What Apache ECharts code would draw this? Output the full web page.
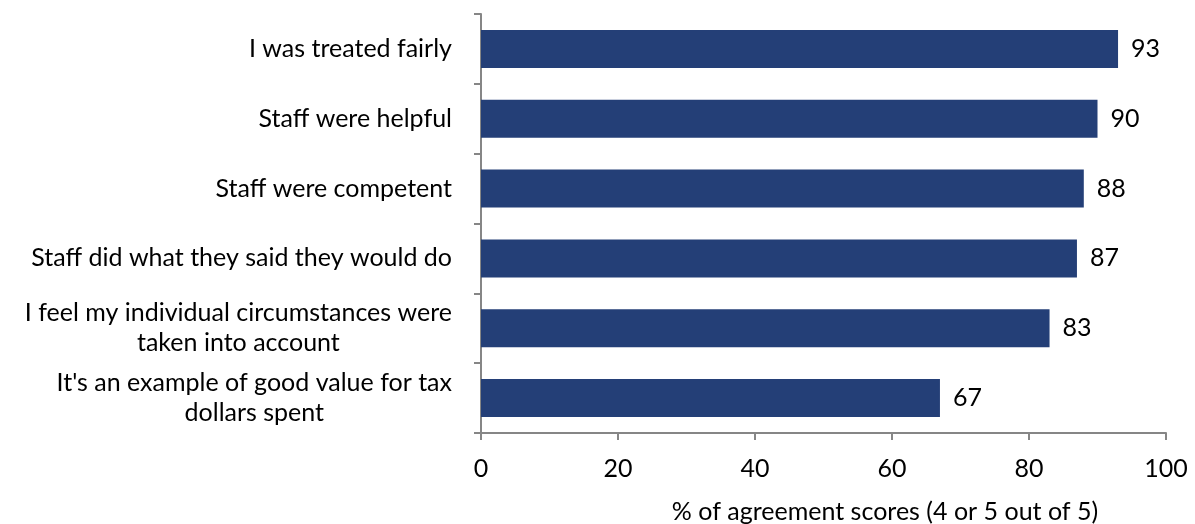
<!DOCTYPE html>
<html>
<head>
<meta charset="utf-8">
<script src="https://cdn.jsdelivr.net/npm/echarts@6/dist/echarts.min.js"></script>
<style>
  html, body { margin: 0; padding: 0; background: #fff; }
  #chart { width: 1195px; height: 524px; }
</style>
</head>
<body>
<div id="chart"></div>
<script>
// categories top to bottom, "\n" where the label wraps
var categories = [
    'I was treated fairly',
    'Staff were helpful',
    'Staff were competent',
    'Staff did what they said they would do',
    'I feel my individual circumstances were\ntaken into account',
    "It's an example of good value for tax\ndollars spent"
];
var scores = [93, 90, 88, 87, 83, 67];
var xTicks = [0, 20, 40, 60, 80, 100];
var xTitle = '% of agreement scores (4 or 5 out of 5)';

var font = 'Lato, "Open Sans", sans-serif';
var fs = 25;
var axisGrey = '#868686';

var chart = echarts.init(document.getElementById('chart'));
chart.setOption({
    animation: false,
    textStyle: { fontFamily: font },
    title: {
        text: xTitle,
        left: 880,
        top: 494,
        textAlign: 'center',
        textStyle: { fontFamily: font, fontSize: fs, fontWeight: 'normal', color: '#000' }
    },
    grid: { left: 481, right: 29, top: 14, bottom: 91 },
    xAxis: {
        type: 'value',
        min: xTicks[0],
        max: xTicks[xTicks.length - 1],
        interval: 20,
        axisLine: { show: true, lineStyle: { color: axisGrey, width: 2 } },
        axisTick: { show: true, length: 7, lineStyle: { color: axisGrey, width: 2 } },
        splitLine: { show: false },
        axisLabel: { fontSize: fs, color: '#000', margin: 23, fontFamily: font }
    },
    yAxis: {
        type: 'category',
        inverse: true,
        data: categories,
        axisLine: { show: true, lineStyle: { color: axisGrey, width: 2 } },
        axisTick: { show: true, length: 7, lineStyle: { color: axisGrey, width: 2 } },
        axisLabel: {
            margin: 29,
            color: '#000',
            fontSize: fs,
            fontFamily: font,
            formatter: function (v) {
                return v.split('\n').map(function (s) { return '{c|' + s + '}'; }).join('\n');
            },
            rich: {
                c: { align: 'center', fontSize: fs, lineHeight: 30, color: '#000', fontFamily: font }
            }
        }
    },
    series: [{
        type: 'bar',
        data: scores,
        barWidth: 38,
        itemStyle: { color: '#243f77' },
        label: {
            show: true,
            position: 'right',
            distance: 13,
            fontSize: fs,
            color: '#000',
            fontFamily: font
        }
    }]
});
</script>
</body>
</html>
